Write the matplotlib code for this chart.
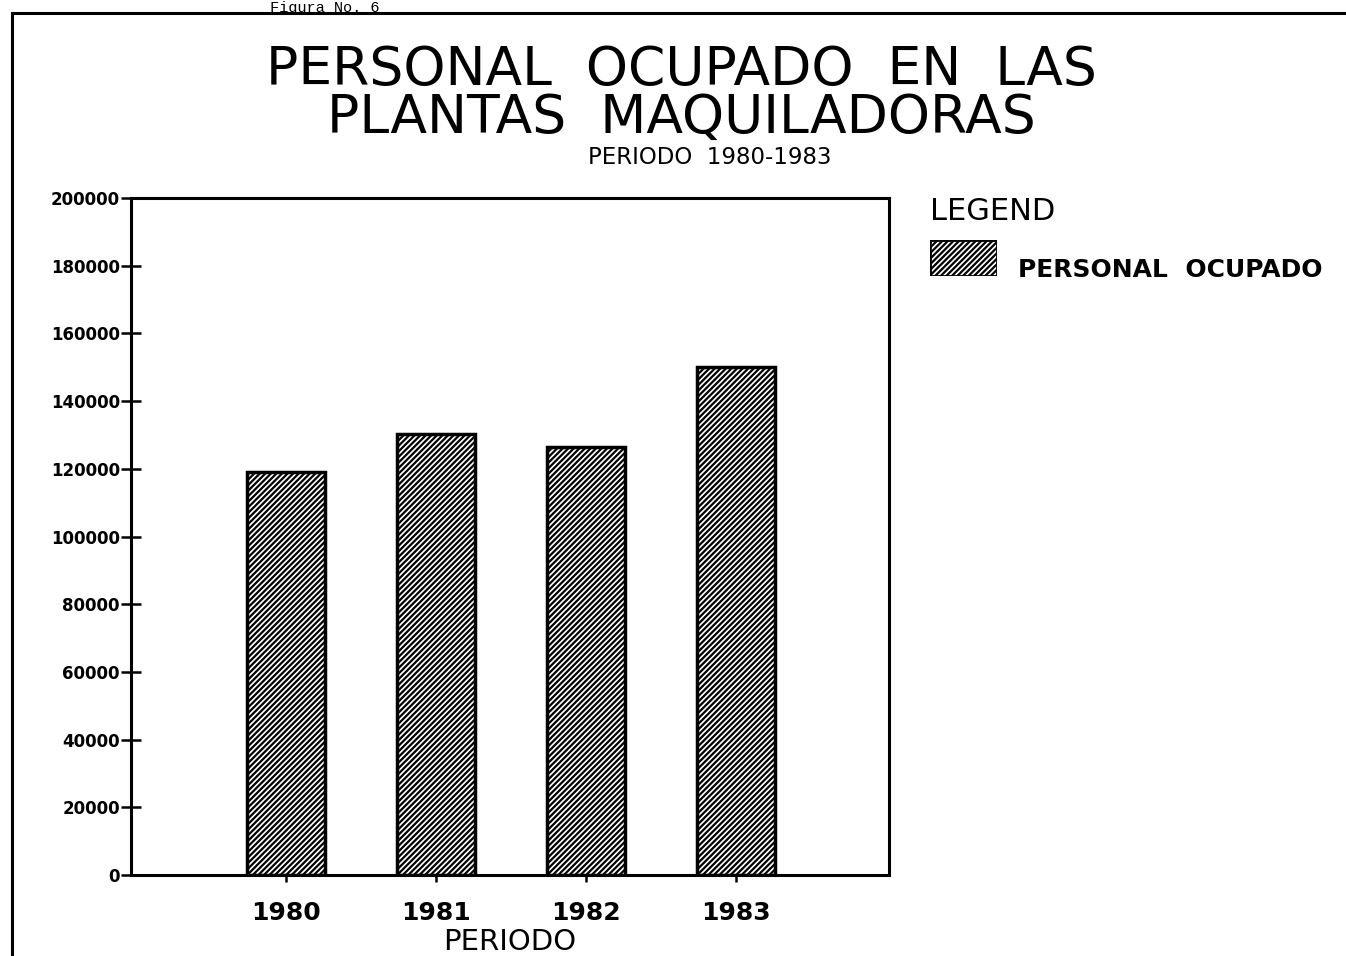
import matplotlib
matplotlib.use("Agg")
import matplotlib.pyplot as plt
from matplotlib.patches import Rectangle
from matplotlib.lines import Line2D

years = ["1980", "1981", "1982", "1983"]
personal = [119000, 130300, 126500, 150000]
yticks = [0, 20000, 40000, 60000, 80000, 100000, 120000, 140000, 160000, 180000, 200000]

plt.rcParams['hatch.linewidth'] = 1.6
fig = plt.figure(figsize=(13.46, 9.56), dpi=100)
fig.patch.set_facecolor("white")

ax = fig.add_axes([131/1346, 1-875/956, (889-131)/1346, (875-198)/956])
x = list(range(len(years)))
ax.bar(x, personal, width=0.52, color="white", edgecolor="black", linewidth=2.5,
       hatch="//////", label="PERSONAL OCUPADO")
ax.set_xlim(-1.03, 4.02)
ax.set_ylim(0, 200000)
ax.set_yticks(yticks)
ax.set_yticklabels([str(v) for v in yticks], fontsize=12, fontweight="bold")
ax.set_xticks(x)
ax.set_xticklabels(years, fontsize=18, fontweight="bold")
ax.tick_params(axis="y", direction="inout", length=14, width=1.8, pad=1)
ax.tick_params(axis="x", direction="out", length=5, width=1.8, pad=14)
for s in ax.spines.values():
    s.set_linewidth(2.2)
ax.set_xlabel("PERIODO", fontsize=21, labelpad=2)

fig.text(0.506, 1-70/956, "PERSONAL  OCUPADO  EN  LAS", ha="center", va="center",
         fontsize=38.5)
fig.text(0.506, 1-118/956, "PLANTAS  MAQUILADORAS", ha="center", va="center",
         fontsize=38.5)
fig.text(0.527, 1-158/956, "PERIODO  1980-1983", ha="center", va="center", fontsize=16.5)

# legend
fig.text(930/1346, 1-212/956, "LEGEND", ha="left", va="center", fontsize=22)
leg_ax = fig.add_axes([930/1346, 1-276/956, 67/1346, 36/956])
leg_ax.set_axis_off()
leg_ax.add_patch(Rectangle((0, 0), 1, 1, facecolor="white", edgecolor="black",
                           linewidth=2, hatch="//////", transform=leg_ax.transAxes))
fig.text(1018/1346, 1-270/956, "PERSONAL  OCUPADO", ha="left", va="center", fontsize=18,
         fontweight="bold")

# outer frame and caption
fig.add_artist(Line2D([12/1346, 1.0], [1-13/956, 1-13/956], color="black", lw=2.2,
                      transform=fig.transFigure))
fig.add_artist(Line2D([12/1346, 12/1346], [0, 1-13/956], color="black", lw=2.2,
                      transform=fig.transFigure))
fig.text(270/1346, 1.0 - 1/956, "Figura No. 6", ha="left", va="top", fontsize=11,
         family="Liberation Mono")

fig.savefig("out.png", dpi=100, facecolor="white")
